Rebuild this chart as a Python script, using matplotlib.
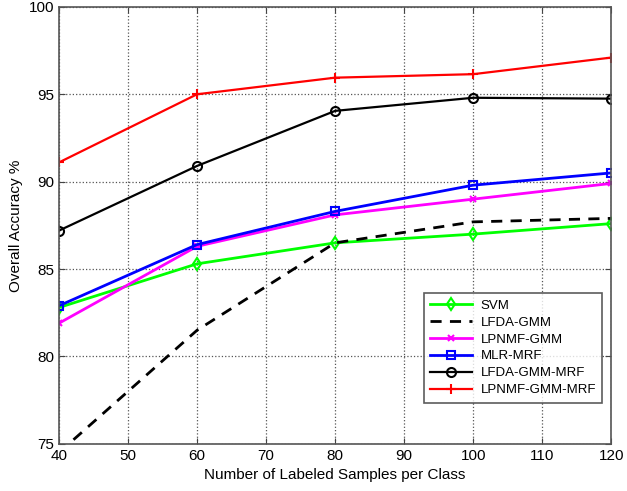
import matplotlib
matplotlib.use("Agg")
import matplotlib.pyplot as plt

x = [40, 60, 80, 100, 120]
svm = [82.8, 85.3, 86.5, 87.0, 87.6]
lfda_gmm = [74.5, 81.5, 86.5, 87.7, 87.9]
lpnmf_gmm = [81.9, 86.3, 88.1, 89.0, 89.9]
mlr_mrf = [82.9, 86.4, 88.3, 89.8, 90.5]
lfda_gmm_mrf = [87.2, 90.9, 94.05, 94.8, 94.75]
lpnmf_gmm_mrf = [91.1, 95.0, 95.95, 96.15, 97.1]
labels = ["SVM", "LFDA-GMM", "LPNMF-GMM", "MLR-MRF", "LFDA-GMM-MRF", "LPNMF-GMM-MRF"]
xticks = [40, 50, 60, 70, 80, 90, 100, 110, 120]
yticks = [75, 80, 85, 90, 95, 100]

plt.rcParams['font.family'] = ['Liberation Sans', 'DejaVu Sans']
fig = plt.figure(figsize=(6.27, 4.91), dpi=100)
ax = fig.add_axes([0.094, 0.096, 0.881, 0.890])

lw = 2.0
ax.plot(x, svm, color='#00ff00', lw=lw, marker='d', ms=6, mfc='none', mew=1.5, label=labels[0])
ax.plot(x, lfda_gmm, color='black', lw=lw, ls=(0, (4, 3)), label=labels[1])
ax.plot(x, lpnmf_gmm, color='#ff00ff', lw=lw, marker='x', ms=5, mew=1.5, label=labels[2])
ax.plot(x, mlr_mrf, color='#0000ff', lw=lw, marker='s', ms=5.5, mfc='none', mew=1.5, label=labels[3])
ax.plot(x, lfda_gmm_mrf, color='black', lw=1.6, marker='o', ms=6.5, mfc='none', mew=1.5, label=labels[4])
ax.plot(x, lpnmf_gmm_mrf, color='#ff0000', lw=1.6, marker='+', ms=7, mew=1.5, label=labels[5])

ax.set_xlim(40, 120)
ax.set_ylim(75, 100)
ax.set_xticks(xticks)
ax.set_yticks(yticks)
ax.grid(True, ls=':', color='#555555', lw=0.9)
ax.tick_params(direction='in', top=True, right=True, labelsize=11, length=4, color='#444444')
for s in ax.spines.values():
    s.set_color('#555555')
    s.set_linewidth(1.2)
ax.set_xlabel("Number of Labeled Samples per Class", fontsize=11)
ax.set_ylabel("Overall Accuracy %", fontsize=11)

leg = ax.legend(loc='lower right', bbox_to_anchor=(0.984, 0.094), borderaxespad=0,
                fontsize=9.5, handlelength=3.2, frameon=True, fancybox=False,
                borderpad=0.5, labelspacing=0.35, handletextpad=0.6)
leg.get_frame().set_edgecolor('#333333')
leg.get_frame().set_linewidth(1.2)

fig.savefig("out.png", dpi=100)
